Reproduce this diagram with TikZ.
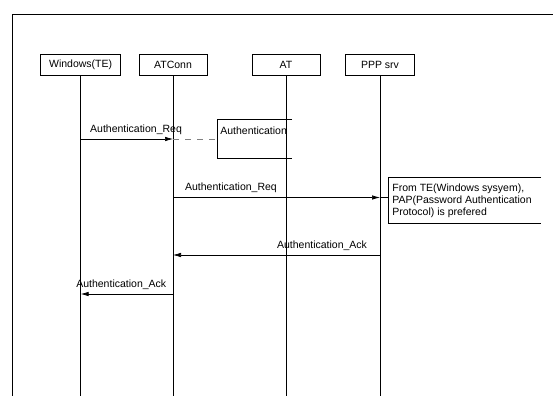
\documentclass[tikz,border=0pt]{standalone}
\usepackage{fontspec}
\setmainfont{Liberation Sans}
\usetikzlibrary{arrows.meta}

\begin{document}
\begin{tikzpicture} [
  x=1pt, y=-1pt,
  >={Latex[length=8pt,width=4.5pt]},
  line width=0.7pt,
  font=\fontsize{10.5}{11.6}\selectfont,
  actor node/.style={rectangle,draw,minimum height=21pt,inner sep=0pt},
  msg label/.style={above=3pt,inner sep=1pt},
  ]
  \useasboundingbox (0,0) rectangle (553,396);

  % outer frame
  \draw (553,14) -- (12,14) -- (12,396);

  \node[actor node, minimum width=80pt] (te)   at (80.6,65) {Windows(TE)};
  \node[actor node, minimum width=68pt] (conn) at (173,65)  {ATConn};
  \node[actor node, minimum width=68pt] (at)   at (286,65)  {AT};
  \node[actor node, minimum width=69pt] (ppp)  at (380,65)  {PPP srv};

  % lifelines
  \coordinate (te end)   at (80.6,396);
  \coordinate (conn end) at (173,396);
  \coordinate (at end)   at (286,396);
  \coordinate (ppp end)  at (380,396);
  \draw (te) -- (te end);
  \draw (conn) -- (conn end);
  \draw (at) -- (at end);
  \draw (ppp) -- (ppp end);

  % message points
  \coordinate (te1)   at (80.6,139);
  \coordinate (conn1) at (173,139);
  \coordinate (conn2) at (173,197.5);
  \coordinate (ppp2)  at (380,197.5);
  \coordinate (ppp3)  at (380,255);
  \coordinate (conn3) at (173,255);
  \coordinate (conn4) at (173,294);
  \coordinate (te4)   at (80.6,294);

  % local action on AT
  \draw (292,119) -- (217,119) -- (217,158) -- (292,158);
  \node[anchor=west, inner sep=0pt] (auth) at (220,131) {Authentication};
  \coordinate (auth in) at (217,139);
  \draw[gray, dash pattern=on 6pt off 6pt] (conn1) -- (auth in);

  % note on PPP srv
  \draw (541,177.5) -- (388,177.5) -- (388,223) -- (541,223);
  \node[anchor=north west, align=left, inner sep=0pt] (note) at (392,184)
    {From TE(Windows sysyem),\\PAP(Password Authentication\\Protocol) is prefered};
  \coordinate (note in) at (388,197.5);
  \draw (ppp2) -- (note in);

  \path[->]
    (te1)   edge node[msg label, pos=0.6]  {Authentication\_Req} (conn1)
    (conn2) edge node[msg label, pos=0.28] {Authentication\_Req} (ppp2)
    (ppp3)  edge node[msg label, pos=0.28] {Authentication\_Ack} (conn3)
    (conn4) edge node[msg label, pos=0.56] {Authentication\_Ack} (te4);
\end{tikzpicture}
\end{document}
